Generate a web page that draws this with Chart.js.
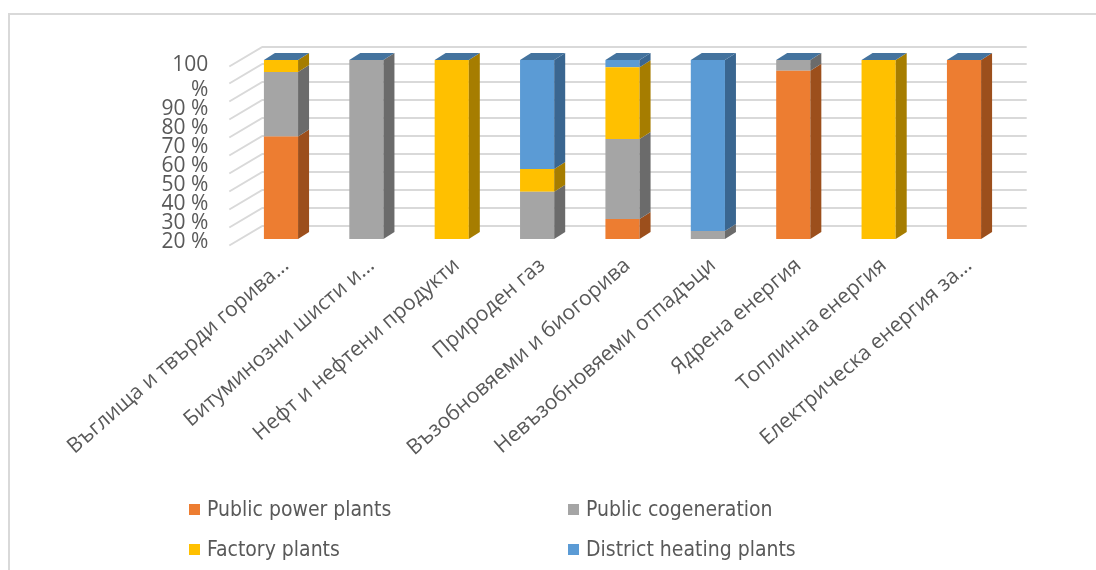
<!DOCTYPE html>
<html>
<head>
<meta charset="utf-8">
<script src="https://cdn.jsdelivr.net/npm/chart.js@4.4.1/dist/chart.umd.min.js"></script>
<style>
  html, body { margin: 0; padding: 0; background: #fff; }
  #wrap { position: relative; width: 1096px; height: 570px; overflow: hidden; }
  #frame { position: absolute; left: 8px; top: 13px; width: 1300px; height: 800px;
           border: 2px solid #d9d9d9; box-sizing: border-box; }
  #chart { position: absolute; left: 0; top: 0; }
  .lg-item { position: absolute; display: flex; align-items: center; height: 24px;
             font: 21px "DejaVu Sans Condensed", "DejaVu Sans", sans-serif; color: #595959;
             white-space: nowrap; }
  .lg-box { width: 11px; height: 11px; margin-right: 7px; flex: none; }
</style>
</head>
<body>
<div id="wrap">
  <div id="frame"></div>
  <canvas id="chart" width="1096" height="570"></canvas>
  <div id="legend"></div>
</div>
<script>
// Fuel categories (long names shortened the way the axis shows them)
const categories = [
  "Въглища и твърди горива...",
  "Битуминозни шисти и...",
  "Нефт и нефтени продукти",
  "Природен газ",
  "Възобновяеми и биогорива",
  "Невъзобновяеми отпадъци",
  "Ядрена енергия",
  "Топлинна енергия",
  "Електрическа енергия за..."
];

const seriesNames = ["Public power plants", "Public cogeneration", "Factory plants", "District heating plants"];

// Share of each plant type per fuel, %
const publicPowerPlants     = [57.2,   0,   0,    0, 11.2,    0, 94,   0, 100];
const publicCogeneration    = [36.1, 100,   0, 26.4, 44.7,  4.5,  6,   0,   0];
const factoryPlants         = [ 6.7,   0, 100, 12.7, 40.0,    0,  0, 100,   0];
const districtHeatingPlants = [   0,   0,   0, 60.9,  4.1, 95.5,  0,   0,   0];

// Value axis
const gridValues = [0, 10, 20, 30, 40, 50, 60, 70, 80, 90, 100];
const yTickValues = [20, 30, 40, 50, 60, 70, 80, 90, 100];

const frontColors = ["#ED7D31", "#A5A5A5", "#FFC000", "#5B9BD5"];
const sideColors  = ["#9C4F1C", "#6B6B6B", "#A67D00", "#3A6690"];
const topColor = "#44739E";

const seriesValues = [publicPowerPlants, publicCogeneration, factoryPlants, districtHeatingPlants];

// 3D look: back wall grid, side wall, and the side/top faces of each column
const DEPTH_DX = 11, DEPTH_DY = 7;
const depthPlugin = {
  id: "depth",
  beforeDatasetsDraw(chart) {
    const { ctx, chartArea, scales } = chart;
    const y = scales.y;
    const wallLeft = chartArea.left + 24;
    const wallRight = chartArea.right + 20;
    ctx.save();
    ctx.strokeStyle = "#d9d9d9";
    ctx.lineWidth = 2;
    gridValues.forEach(v => {
      const py = Math.round(y.getPixelForValue(v) - 13.5);
      ctx.beginPath();
      ctx.moveTo(wallLeft - 33, py + 19.5);
      ctx.lineTo(wallLeft, py);
      ctx.lineTo(wallRight, py);
      ctx.stroke();
    });
    ctx.restore();
  },
  afterDatasetsDraw(chart) {
    const { ctx } = chart;
    const metas = chart.data.datasets.map((d, i) => chart.getDatasetMeta(i));
    const n = chart.data.labels.length;
    ctx.save();
    for (let j = 0; j < n; j++) {
      metas.forEach((m, i) => {
        const p = m.data[j].getProps(["x", "y", "base", "width"], true);
        if (Math.abs(p.base - p.y) < 0.5) return;
        const r = p.x + p.width / 2;
        ctx.fillStyle = sideColors[i];
        ctx.beginPath();
        ctx.moveTo(r, p.y);
        ctx.lineTo(r + DEPTH_DX, p.y - DEPTH_DY);
        ctx.lineTo(r + DEPTH_DX, p.base - DEPTH_DY);
        ctx.lineTo(r, p.base);
        ctx.closePath();
        ctx.fill();
      });
      const t = metas[metas.length - 1].data[j].getProps(["x", "y", "width"], true);
      const l = t.x - t.width / 2, r = t.x + t.width / 2;
      ctx.fillStyle = topColor;
      ctx.beginPath();
      ctx.moveTo(l, t.y);
      ctx.lineTo(l + DEPTH_DX, t.y - DEPTH_DY);
      ctx.lineTo(r + DEPTH_DX, t.y - DEPTH_DY);
      ctx.lineTo(r, t.y);
      ctx.closePath();
      ctx.fill();
    }
    ctx.restore();
  }
};

const textColor = "#595959";

new Chart(document.getElementById("chart"), {
  type: "bar",
  data: {
    labels: categories,
    datasets: seriesNames.map((name, i) => ({
      label: name,
      data: seriesValues[i],
      backgroundColor: frontColors[i],
      borderWidth: 0,
      yAxisID: "y",
      barPercentage: 0.4,
      categoryPercentage: 1.0
    }))
  },
  options: {
    responsive: false,
    animation: false,
    layout: { padding: { top: 60, left: 0, right: 89.3, bottom: 0 } },
    plugins: { legend: { display: false }, tooltip: { enabled: false } },
    scales: {
      x: {
        stacked: true,
        grid: { display: false },
        border: { display: false },
        ticks: {
          autoSkip: false,
          maxRotation: 41,
          minRotation: 41,
          color: textColor,
          padding: 6,
          labelOffset: 5,
          font: { family: "Open Sans", size: 21 }
        },
        afterFit(s) { s.height = 331; }
      },
      y: { stacked: true, display: false, min: 0, max: 100 },
      yl: {
        position: "left",
        min: 21.579,
        max: 115.789,
        grid: { display: false },
        border: { display: false },
        ticks: {
          autoSkip: false,
          padding: 22,
          color: textColor,
          font: { family: "Open Sans", size: 21, lineHeight: 25 / 21 },
          callback: v => (v === 100 ? ["100", "%", ""] : v + " %")
        },
        afterBuildTicks(s) { s.ticks = yTickValues.map(v => ({ value: v })); },
        afterFit(s) { s.width = 238.3; }
      }
    }
  },
  plugins: [depthPlugin]
});

// Legend: two columns, two rows
const legendPos = [[189, 497], [568, 497], [189, 537], [568, 537]];
const legend = document.getElementById("legend");
seriesNames.forEach((name, i) => {
  const item = document.createElement("div");
  item.className = "lg-item";
  item.style.left = legendPos[i][0] + "px";
  item.style.top = legendPos[i][1] + "px";
  const box = document.createElement("span");
  box.className = "lg-box";
  box.style.background = frontColors[i];
  item.appendChild(box);
  item.appendChild(document.createTextNode(name));
  legend.appendChild(item);
});
</script>
</body>
</html>
